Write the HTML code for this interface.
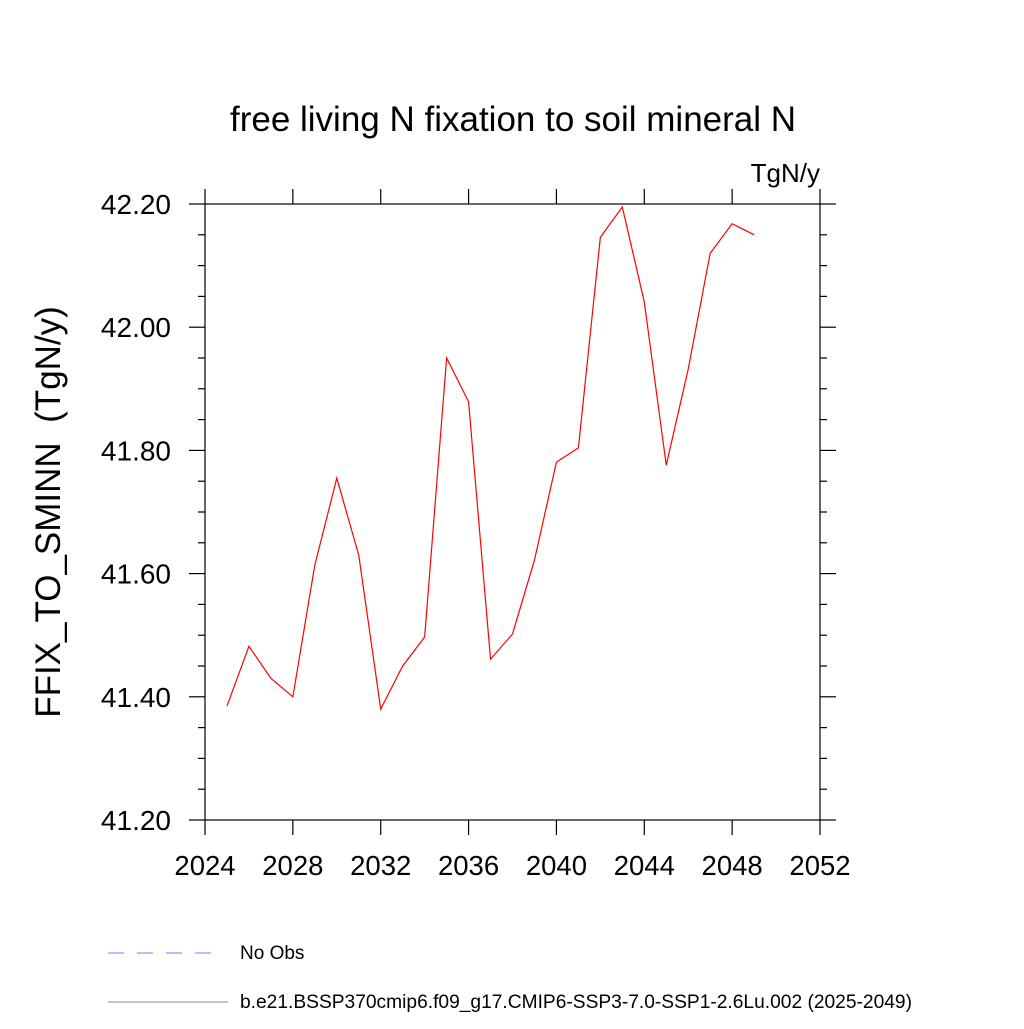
<!DOCTYPE html>
<html><head><meta charset="utf-8"><style>
body{margin:0;background:#fff}
svg text{font-family:"Liberation Sans",sans-serif;fill:#000}
</style></head><body>
<svg id="c" width="1024" height="1024" viewBox="0 0 1024 1024">
<text x="513" y="131" font-size="35" text-anchor="middle">free living N fixation to soil mineral N</text>
<text x="820" y="182" font-size="26" text-anchor="end">TgN/y</text>
<text transform="translate(60,512) rotate(-90)" font-size="35" text-anchor="middle" xml:space="preserve" style="white-space:pre">FFIX_TO_SMINN  (TgN/y)</text>
<g id="axes"></g>
<g id="series"></g>
<g>
<line x1="108" y1="953" x2="215" y2="953" stroke="#7777ff" stroke-width="1" stroke-dasharray="16,13"/>
<text x="240" y="959" font-size="19">No Obs</text>
<line x1="108" y1="1002" x2="228" y2="1002" stroke="#888" stroke-width="1"/>
<text x="240" y="1008" font-size="19.2">b.e21.BSSP370cmip6.f09_g17.CMIP6-SSP3-7.0-SSP1-2.6Lu.002 (2025-2049)</text>
</g>
</svg>
<script>
const years=[2025,2026,2027,2028,2029,2030,2031,2032,2033,2034,2035,2036,2037,2038,2039,2040,2041,2042,2043,2044,2045,2046,2047,2048,2049];
const values=[41.385,41.482,41.430,41.400,41.614,41.755,41.630,41.380,41.450,41.497,41.950,41.879,41.461,41.502,41.622,41.781,41.804,42.146,42.195,42.041,41.776,41.932,42.120,42.168,42.150];
const xTicks=[2024,2028,2032,2036,2040,2044,2048,2052];
const yTicks=[41.2,41.4,41.6,41.8,42.0,42.2];
const yTickLabels=["41.20","41.40","41.60","41.80","42.00","42.20"];
const L=205,R=820,T=204,B=820;
const xs=v=>L+(v-2024)/(2052-2024)*(R-L);
const ys=v=>B-(v-41.2)/(42.2-41.2)*(B-T);
const NS="http://www.w3.org/2000/svg";
const ax=document.getElementById('axes'),se=document.getElementById('series');
function mk(p,tag,a){const e=document.createElementNS(NS,tag);for(const k in a)e.setAttribute(k,a[k]);p.appendChild(e);return e;}
const fr=mk(ax,'rect',{x:L,y:T,width:R-L,height:B-T,fill:'none',stroke:'#000','stroke-width':1.2});


xTicks.forEach(t=>{const x=xs(t);
mk(ax,'line',{x1:x,y1:B,x2:x,y2:B+15,stroke:'#000','stroke-width':1.2});
mk(ax,'line',{x1:x,y1:T,x2:x,y2:T-15,stroke:'#000','stroke-width':1.2});
const tx=mk(ax,'text',{x:x,y:B+55,'font-size':27.5,'text-anchor':'middle'});tx.textContent=t;

});
for(let v=41.2;v<=42.2001;v+=0.05){const y=ys(v);const maj=Math.abs(Math.round(v*5)-v*5)<1e-6;const l=maj?16:7;
mk(ax,'line',{x1:L,y1:y,x2:L-l,y2:y,stroke:'#000','stroke-width':1.2});
mk(ax,'line',{x1:R,y1:y,x2:R+l,y2:y,stroke:'#000','stroke-width':1.2});}
yTicks.forEach((t,i)=>{const tx=mk(ax,'text',{x:171,y:ys(t)+10,'font-size':28,'text-anchor':'end'});tx.textContent=yTickLabels[i];

});
const ln=mk(se,'polyline',{points:years.map((y,i)=>xs(y)+','+ys(values[i])).join(' '),fill:'none',stroke:'#ff0000','stroke-width':1.2});


</script>
</body></html>
